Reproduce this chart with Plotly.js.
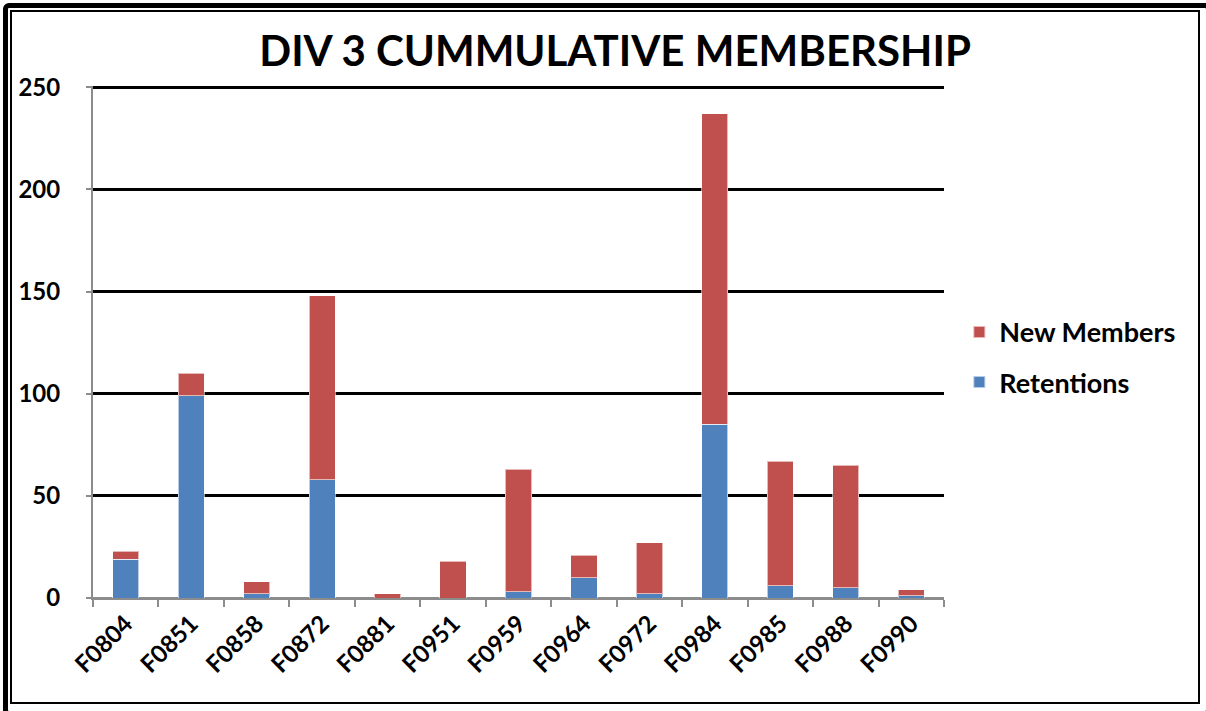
<!DOCTYPE html>
<html>
<head>
<meta charset="utf-8">
<script src="https://cdn.plot.ly/plotly-3.0.1.min.js"></script>
<style>
  html, body { margin: 0; padding: 0; background: #fff; }
  #wrap { position: relative; width: 1206px; height: 711px; overflow: hidden; }
  #chart { position: absolute; left: 0; top: 0; width: 1206px; height: 711px; }
  #outer { position: absolute; left: 3px; top: 3px; width: 1208px; height: 713px; box-sizing: border-box; border: 5px solid #000; border-radius: 6px; pointer-events: none; }
  #inner { position: absolute; left: 10px; top: 10px; width: 1190px; height: 694px; box-sizing: border-box; border: 2px solid #000; pointer-events: none; }
</style>
</head>
<body>
<div id="wrap">
  <div id="chart"></div>
  <div id="outer"></div>
  <div id="inner"></div>
</div>
<script>
const categories = ["F0804","F0851","F0858","F0872","F0881","F0951","F0959","F0964","F0972","F0984","F0985","F0988","F0990"];
const retentions = [19, 99, 2, 58, 0, 0, 3, 10, 2, 85, 6, 5, 1];
const newMembers = [4, 11, 6, 90, 2, 18, 60, 11, 25, 152, 61, 60, 3];
const yTicks = [0, 50, 100, 150, 200, 250];

const FONT = "Lato, 'Open Sans', sans-serif";

const traces = [
  {
    type: "bar", name: "Retentions", x: categories, y: retentions,
    marker: { color: "#4F81BD", line: { color: "rgba(255,255,255,0.6)", width: 1 } },
    legendgroup: "r", legendrank: 2
  },
  {
    type: "bar", name: "New Members", x: categories, y: newMembers,
    marker: { color: "#C0504D", line: { color: "rgba(255,255,255,0.6)", width: 1 } },
    legendgroup: "n", legendrank: 1
  }
];

const layout = {
  width: 1206, height: 711,
  barmode: "stack",
  bargap: 0.6,
  paper_bgcolor: "#fff", plot_bgcolor: "#fff",
  margin: { l: 93, r: 262, t: 86, b: 113 },
  title: {
    text: "<b>DIV 3 CUMMULATIVE MEMBERSHIP</b>",
    font: { family: FONT, size: 42, color: "#000" },
    x: 0.51, xanchor: "center", y: 0.928, yanchor: "middle"
  },
  xaxis: {
    type: "category",
    tickangle: -45,
    tickfont: { family: FONT, size: 24, color: "#000", weight: "bold" },
    showline: true, linecolor: "#8c8c8c", linewidth: 2,
    ticks: "outside", ticklen: 7, tickcolor: "#8c8c8c", tickwidth: 2,
    tickson: "boundaries",
    showgrid: false
  },
  yaxis: {
    range: [0, 250.6],
    tickvals: yTicks,
    ticktext: yTicks.map(String),
    tickfont: { family: FONT, size: 24, color: "#000", weight: "bold" },
    showline: true, linecolor: "#8c8c8c", linewidth: 2,
    ticks: "outside", ticklen: 5, tickcolor: "#8c8c8c", tickwidth: 2,
    ticklabelstandoff: 21,
    showgrid: true, gridcolor: "#000", gridwidth: 3,
    zeroline: true, zerolinecolor: "#8c8c8c", zerolinewidth: 2
  },
  legend: {
    x: 1.018, xanchor: "left", y: 0.47, yanchor: "middle",
    traceorder: "grouped", tracegroupgap: 12,
    font: { family: FONT, size: 27, color: "#000", weight: "bold" },
    bgcolor: "rgba(0,0,0,0)",
    itemsizing: "constant"
  },
  showlegend: true
};

Plotly.newPlot("chart", traces, layout, { displayModeBar: false, staticPlot: true });
</script>
</body>
</html>
